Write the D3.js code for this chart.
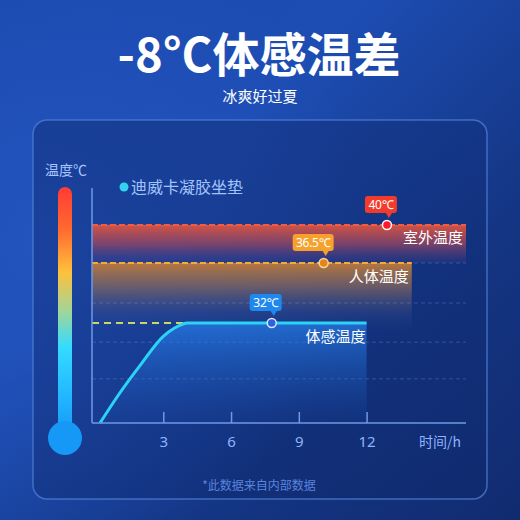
<!DOCTYPE html>
<html>
<head>
<meta charset="utf-8">
<style>
    body { margin: 0; background: #163c94; }
    svg { display: block; font-family: "Noto Sans CJK SC", "Noto Sans", sans-serif; }
</style>
</head>
<body>
<svg width="520" height="520"></svg>
<script src="https://d3js.org/d3.v7.min.js"></script>
<script>
    // data
    const hours = [0.2, 1, 2, 3, 3.5, 4.1, 12];
    const feltTemp = [20, 23.3, 27.0, 30.4, 31.4, 32, 32];
    const bandNames = ["室外温度", "人体温度"];
    const bandTemps = [40, 36.5];
    const bandEndHours = [16.4, 14];
    const markerHours = [12.9, 10.1, 7.8];
    const markerLabels = ["40℃", "36.5℃", "32℃"];
    const markerTemps = [40, 36.5, 32];
    const xTicks = [3, 6, 9, 12];
    const gridTemps = [25.3, 29.7, 33.5, 36.5, 40];

    let svg = d3.select("svg");
    let defs = svg.append("defs");

    // x: hours, y: temperature (the picture is not to a linear temperature scale)
    let x = d3.scaleLinear().domain([0, 16.4]).range([95.5, 466]);
    let y = d3.scaleLinear().domain([20, 32, 36.5, 40]).range([423, 323, 263, 225]);
    let axisX = 92;

    function linGrad(id, x1, y1, x2, y2, stops) {
        let g = defs.append("linearGradient").attr("id", id)
            .attr("x1", x1).attr("y1", y1).attr("x2", x2).attr("y2", y2);
        stops.forEach(s => g.append("stop").attr("offset", s[0]).attr("stop-color", s[1]).attr("stop-opacity", s[2] == null ? 1 : s[2]));
    }

    linGrad("bg", 0, 0, 1, 1, [[0, "#1b49ad"], [0.35, "#1d4db3"], [0.7, "#143583"], [1, "#112b70"]]);
    linGrad("panel", 0, 0, 0, 1, [[0, "#12307c", 0.55], [1, "#0d2566", 0.35]]);
    linGrad("red", 0, 0, 0, 1, [[0, "#e4553d", 0.92], [0.5, "#9c4660", 0.75], [1, "#3f3a85", 0.25]]);
    linGrad("orange", 0, 0, 0, 1, [[0, "#c07a38", 0.95], [0.35, "#8c6a5a", 0.7], [0.75, "#3f4e86", 0.3], [1, "#2a4588", 0]]);
    linGrad("blue", 0, 0, 0, 1, [[0, "#2a8cff", 0.6], [0.5, "#2370d8", 0.35], [1, "#1d55b8", 0.08]]);
    linGrad("thermo", 0, 0, 0, 1, [[0, "#ff3b35"], [0.17, "#ff6a30"], [0.34, "#ffc03c"], [0.5, "#9fd69a"], [0.64, "#34dbff"], [0.85, "#22b4ff"], [1, "#1596f5"]]);
    let glow = defs.append("radialGradient").attr("id", "glow").attr("cx", 0.1).attr("cy", 0.45).attr("r", 0.6);
    glow.append("stop").attr("offset", 0).attr("stop-color", "#2456c2").attr("stop-opacity", 0.8);
    glow.append("stop").attr("offset", 1).attr("stop-color", "#2456c2").attr("stop-opacity", 0);

    svg.append("rect").attr("width", 520).attr("height", 520).attr("fill", "url(#bg)");
    svg.append("rect").attr("width", 520).attr("height", 520).attr("fill", "url(#glow)");

    // titles
    svg.append("text").attr("x", 259).attr("y", 72).attr("text-anchor", "middle")
        .attr("font-size", 47).attr("font-weight", 700).attr("fill", "#fff")
        .text("-8°C体感温差");
    svg.append("text").attr("x", 260).attr("y", 102).attr("text-anchor", "middle")
        .attr("font-size", 15).attr("fill", "#fff")
        .text("冰爽好过夏");

    // panel
    svg.append("rect").attr("x", 33).attr("y", 120).attr("width", 454).attr("height", 379).attr("rx", 14)
        .attr("fill", "url(#panel)").attr("stroke", "#4f7fd6").attr("stroke-opacity", 0.75).attr("stroke-width", 1.5);

    // thermometer
    svg.append("text").attr("x", 45).attr("y", 175).attr("font-size", 14).attr("fill", "#a9c6ff").text("温度℃");
    let thermo = svg.append("g").attr("fill", "url(#thermo)");
    thermo.append("rect").attr("x", 58).attr("y", 187).attr("width", 14).attr("height", 250).attr("rx", 7);
    thermo.append("circle").attr("cx", 65).attr("cy", 438).attr("r", 17).attr("fill", "#1699f6");

    // legend
    svg.append("circle").attr("cx", 124).attr("cy", 187).attr("r", 4.5).attr("fill", "#34d2ee");
    svg.append("text").attr("x", 131).attr("y", 193).attr("font-size", 16).attr("fill", "#a3c4fb").text("迪威卡凝胶坐垫");

    // bands
    svg.append("rect").attr("x", axisX).attr("y", y(40)).attr("width", x(bandEndHours[0]) - axisX)
        .attr("height", y(36.5) - y(40)).attr("fill", "url(#red)");
    svg.append("rect").attr("x", axisX).attr("y", y(36.5)).attr("width", x(bandEndHours[1]) - axisX)
        .attr("height", y(31) - y(36.5)).attr("fill", "url(#orange)");

    // grid
    svg.append("g").selectAll("line").data(gridTemps).join("line")
        .attr("x1", axisX).attr("x2", x(16.4)).attr("y1", d => y(d)).attr("y2", d => y(d))
        .attr("stroke", "#8fb0ee").attr("stroke-opacity", 0.28).attr("stroke-dasharray", "4,3");

    // felt temperature area + line
    let pts = hours.map((h, i) => [h, feltTemp[i]]);
    svg.append("path").datum(pts)
        .attr("d", d3.area().x(d => x(d[0])).y0(y(20)).y1(d => y(d[1])).curve(d3.curveMonotoneX))
        .attr("fill", "url(#blue)");
    svg.append("line").attr("x1", axisX).attr("x2", x(4.1)).attr("y1", y(32)).attr("y2", y(32))
        .attr("stroke", "#c9d85e").attr("stroke-width", 2).attr("stroke-dasharray", "7,5");
    svg.append("path").datum(pts)
        .attr("d", d3.line().x(d => x(d[0])).y(d => y(d[1])).curve(d3.curveMonotoneX))
        .attr("fill", "none").attr("stroke", "#2bd3f6").attr("stroke-width", 3);

    // band dashed tops
    let dashColors = ["#f55a3c", "#f7aa32"];
    svg.append("g").selectAll("line").data(bandTemps).join("line")
        .attr("x1", axisX).attr("x2", (d, i) => x(bandEndHours[i]))
        .attr("y1", d => y(d)).attr("y2", d => y(d))
        .attr("stroke", (d, i) => dashColors[i]).attr("stroke-width", 2).attr("stroke-dasharray", "6,3");

    // band labels
    svg.append("text").attr("x", x(bandEndHours[0]) - 3).attr("y", y(40) + 18).attr("text-anchor", "end")
        .attr("font-size", 15).attr("fill", "#fff").text(bandNames[0]);
    svg.append("text").attr("x", x(bandEndHours[1]) - 3).attr("y", y(36.5) + 19).attr("text-anchor", "end")
        .attr("font-size", 15).attr("fill", "#fff").text(bandNames[1]);
    svg.append("text").attr("x", x(12) - 1).attr("y", y(32) + 19).attr("text-anchor", "end")
        .attr("font-size", 15).attr("fill", "#fff").text("体感温度");

    // axes
    let axisColor = "#6f98e6";
    svg.append("line").attr("x1", axisX).attr("x2", axisX).attr("y1", 188).attr("y2", y(20))
        .attr("stroke", axisColor).attr("stroke-width", 1.5);
    let xAxis = svg.append("g").attr("transform", `translate(0,${y(20)})`)
        .call(d3.axisBottom(x).tickValues(xTicks).tickSize(-11).tickPadding(13).tickSizeOuter(0));
    xAxis.select(".domain").attr("d", `M${axisX},0H${x(16.4)}`).attr("stroke", axisColor).attr("stroke-width", 1.5);
    xAxis.selectAll(".tick line").attr("stroke", axisColor).attr("stroke-width", 1.5);
    xAxis.selectAll(".tick text").attr("fill", "#8db4fb").attr("font-size", 15)
        .attr("font-family", "'Noto Sans', sans-serif");
    svg.append("text").attr("x", 440).attr("y", 447).attr("text-anchor", "middle")
        .attr("font-size", 14).attr("fill", "#8db4fb").text("时间/h");

    // markers with callouts
    let calloutColors = ["#f23b2c", "#f5a12c", "#1f88ee"];
    let dotFill = ["#ff1b2d", "#e6861a", "#2a64df"];
    let dotStroke = ["#fff", "#f7d8a2", "#dbe8ff"];
    let calloutW = [32, 41, 32];
    markerHours.forEach((h, i) => {
        let cx = x(h), cy = y(markerTemps[i]);
        let g = svg.append("g");
        let right = cx + 10, top = cy - 29, bottom = cy - 12;
        g.append("path")
            .attr("d", `M${right - calloutW[i] + 3},${top}H${right - 3}Q${right},${top} ${right},${top + 3}V${bottom - 3}Q${right},${bottom} ${right - 3},${bottom}H${cx + 5}L${cx + 2},${cy - 7}L${cx - 1},${bottom}H${right - calloutW[i] + 3}Q${right - calloutW[i]},${bottom} ${right - calloutW[i]},${bottom - 3}V${top + 3}Q${right - calloutW[i]},${top} ${right - calloutW[i] + 3},${top}Z`)
            .attr("fill", calloutColors[i]);
        g.append("text").attr("x", right - calloutW[i] / 2).attr("y", top + 13).attr("text-anchor", "middle")
            .attr("font-size", 12).attr("fill", "#fff").attr("font-family", "'Noto Sans', sans-serif")
            .attr("letter-spacing", -0.3).text(markerLabels[i]);
        g.append("circle").attr("cx", cx).attr("cy", cy).attr("r", 4.5)
            .attr("fill", dotFill[i]).attr("stroke", dotStroke[i]).attr("stroke-width", 1.5);
    });

    // footer
    svg.append("text").attr("x", 259).attr("y", 490).attr("text-anchor", "middle")
        .attr("font-size", 12).attr("fill", "#5a84dc").text("*此数据来自内部数据");
</script>
</body>
</html>
